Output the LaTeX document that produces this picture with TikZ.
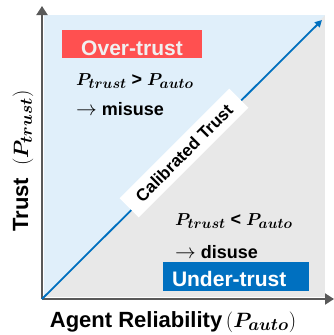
\documentclass[tikz,border=0pt]{standalone}
\usepackage{fontspec}
\usepackage{bm}
\setmainfont{Liberation Sans}
\DeclareMathSizes{18}{18.5}{14}{10}
\DeclareMathSizes{22}{22}{16.5}{12}
\usetikzlibrary{arrows.meta}
\definecolor{skyfill}{HTML}{E0EFFA}
\definecolor{greyfill}{HTML}{E8E8E8}
\definecolor{overred}{HTML}{FF5050}
\definecolor{underblue}{HTML}{0070C0}
\definecolor{axisgrey}{HTML}{595959}
\definecolor{paletext}{HTML}{F0F0F0}
\newcommand{\bigarrow}{{\fontsize{22}{22}\selectfont$\rightarrow$}}
\tikzset{
  axisline/.style={draw=axisgrey, line width=2pt, -{Triangle[length=9pt,width=11pt]}},
  diagline/.style={draw=underblue, line width=1.8pt, -{Triangle[length=7pt,width=7pt]}},
  labelbox/.style={inner sep=0pt, font=\fontsize{21}{24}\selectfont\bfseries},
  relation/.style={anchor=base west, inner sep=0pt, font=\fontsize{18}{21}\selectfont\bfseries},
  axislabel/.style={anchor=base, inner sep=0pt, font=\fontsize{22}{26}\selectfont\bfseries},
}
\begin{document}
\begin{tikzpicture}[x=1pt,y=-1pt]
\useasboundingbox (0,0) rectangle (333,335);
% regions
\fill[greyfill] (44,15) rectangle (325,297);
\fill[skyfill] (44,15) -- (325,15) -- (44,297) -- cycle;
% axes
\coordinate (O) at (42,299);
\coordinate (Ytip) at (42,6);
\coordinate (Xtip) at (334,299);
\coordinate (Dtip) at (322,20);
\draw[axisline] (O) -- (Ytip);
\draw[axisline] (O) -- (Xtip);
\draw[diagline] (O) -- (Dtip);
% calibrated trust label
\node[fill=white, rotate=45, minimum width=155pt, minimum height=27pt, inner sep=0pt,
      font=\fontsize{17}{20}\selectfont\bfseries] (calib) at (184,153) {Calibrated Trust};
% over-trust
\node[labelbox, fill=overred, text=paletext, minimum width=140pt, minimum height=28pt,
      text height=22pt, text depth=0pt] (over) at (132,44) {Over-trust};
\node[relation] (overrel) at (76,85) {$\bm{P_{trust}}$ > $\bm{P_{auto}}$};
\node[relation] (misuse) at (76,115) {\bigarrow\ misuse};
% under-trust
\node[relation] (underrel) at (175,225) {$\bm{P_{trust}}$ < $\bm{P_{auto}}$};
\node[relation] (disuse) at (175,258) {\bigarrow\ disuse};
\node[labelbox, fill=underblue, text=white, inner xsep=9pt, text width=128pt, align=left,
      minimum height=29pt, text height=19pt, text depth=0pt] (under) at (236,276.5) {Under-trust};
% axis labels
\node[axislabel] (xlab) at (173,327) {Agent Reliability\,$(\bm{P_{auto}})$};
\node[axislabel, rotate=90] (ylab) at (28,161) {Trust\ \ $(\bm{P_{trust}})$};
\end{tikzpicture}
\end{document}
